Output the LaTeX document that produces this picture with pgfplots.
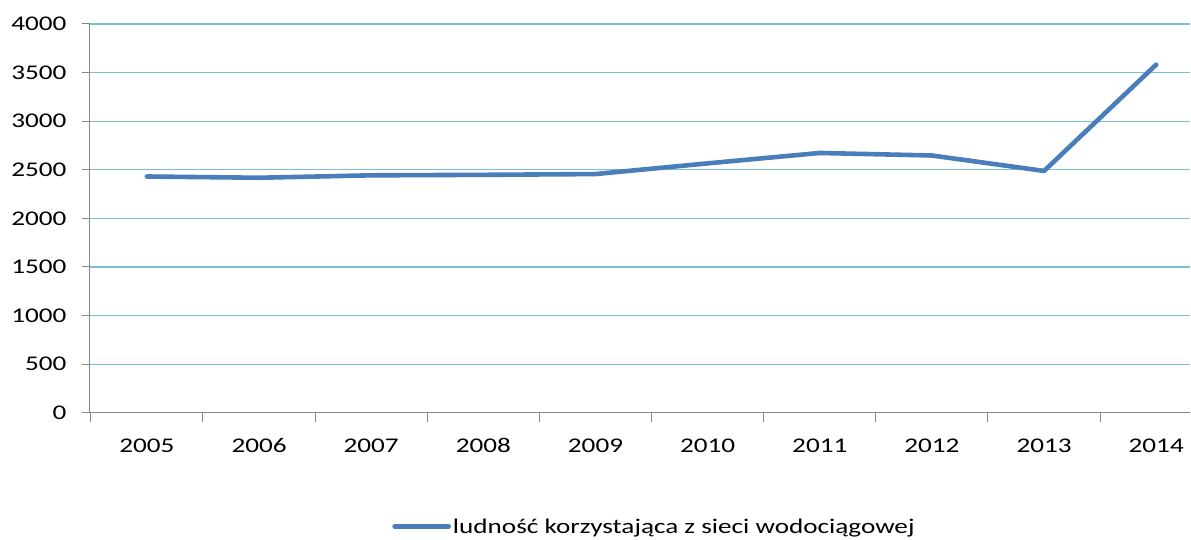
\documentclass[border=0pt]{standalone}
\usepackage{pgfplots}
\pgfplotsset{compat=1.18}
\usepackage{fontspec}
\setmainfont{Carlito}[FakeStretch=1.3]
\definecolor{lineblue}{RGB}{74,126,187}
\definecolor{gridc}{RGB}{120,192,212}
\definecolor{axisg}{RGB}{134,134,134}
\begin{document}
\begin{tikzpicture}
\begin{axis}[
  at={(0,0)}, anchor=south west,
  scale only axis,
  width=1101bp, height=389bp,
  xmin=-0.508, xmax=9.305,
  ymin=0, ymax=4000,
  ytick={0,500,...,4000},
  xtick={0,...,9},
  xticklabels={2005,2006,2007,2008,2009,2010,2011,2012,2013,2014},
  minor xtick={-0.5,0.5,...,8.5},
  major x tick style={draw=none},
  tick align=outside,
  major tick length=8bp,
  minor tick length=9bp,
  axis x line*=bottom,
  axis y line*=left,
  axis line style={draw=axisg, line width=1bp, -},
  every tick/.style={draw=axisg, line width=1bp},
  ymajorgrids,
  grid style={draw=gridc, line width=1.2bp},
  font=\fontsize{21}{25}\selectfont,
  /pgf/number format/1000 sep={},
  /pgf/number format/assume math mode=true,
  yticklabel style={xshift=-12bp},
  xticklabel style={yshift=-14bp, text height=14bp, text depth=0bp},
  clip=false,
  legend style={at={(0.513,-0.293)}, anchor=center, draw=none, fill=none,
    font=\fontsize{21}{25}\selectfont, inner sep=0pt},
  legend cell align=left,
  legend image code/.code={\draw[#1, line cap=round] (0bp,0bp) -- (54bp,0bp);},
]
\addplot[lineblue, line width=4.6bp, line join=round, line cap=round] coordinates {
 (0,2431) (1,2418) (2,2443) (3,2448) (4,2456) (5,2566) (6,2673) (7,2647) (8,2488) (9,3582)
};
\addlegendentry{ludność korzystająca z sieci wodociągowej}
\end{axis}
\useasboundingbox (-90bp,-127bp) rectangle (1101bp,413bp);
\end{tikzpicture}
\end{document}
